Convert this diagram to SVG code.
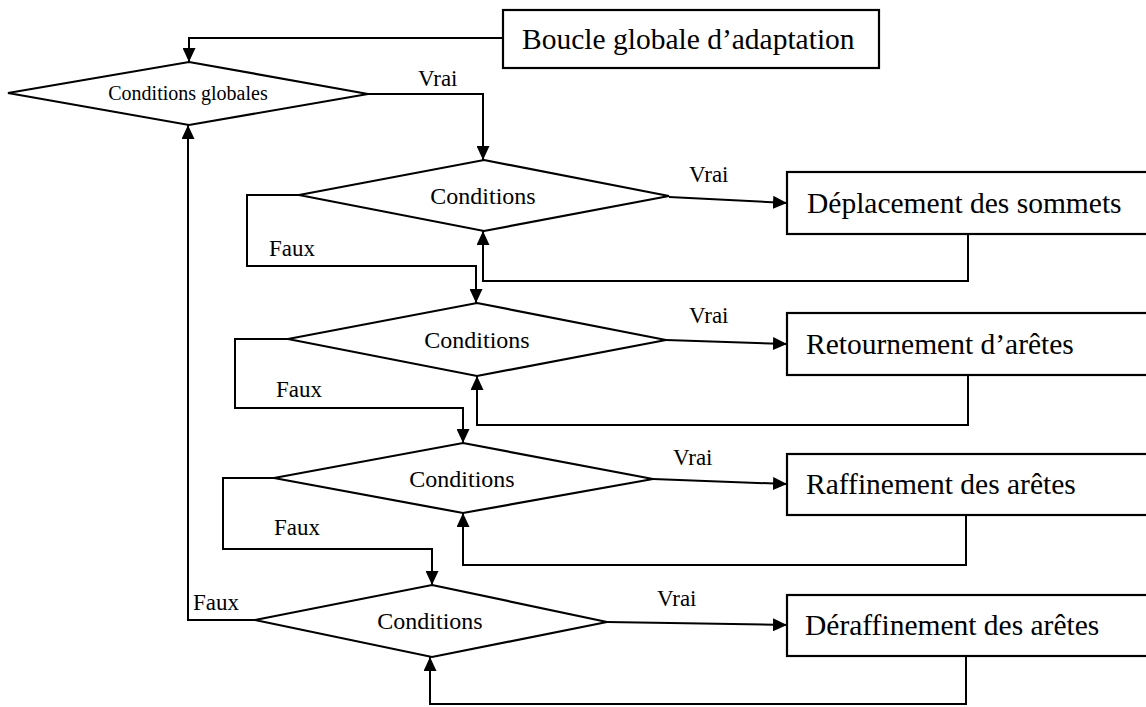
<svg xmlns="http://www.w3.org/2000/svg" width="1146" height="707" viewBox="0 0 1146 707">
<style>
  .shape { fill: #fff; stroke: #000; stroke-width: 2.2; stroke-linejoin: miter; }
  .conn { fill: none; stroke: #000; stroke-width: 2; }
  .box { font-family: "Liberation Serif", "Times New Roman", serif; font-size: 29.5px; fill: #000; }
  .cond { font-family: "Liberation Serif", "Times New Roman", serif; font-size: 24px; fill: #000; text-anchor: middle; }
  .gcond { font-family: "Liberation Serif", "Times New Roman", serif; font-size: 20px; fill: #000; text-anchor: middle; }
  .lbl { font-family: "Liberation Serif", "Times New Roman", serif; font-size: 23px; fill: #000; }
</style>
<defs>
  <marker id="arr" markerUnits="userSpaceOnUse" markerWidth="15" markerHeight="13" refX="14" refY="6.5" orient="auto">
    <path d="M0,0 L14,6.5 L0,13 z" fill="#000"/>
  </marker>
</defs>
<rect width="1146" height="707" fill="#fff"/>

<g id="connectors">
  <polyline class="conn" points="503,38 189,38 189,62" marker-end="url(#arr)"/>
  <polyline class="conn" points="368,94 483,94 483,160" marker-end="url(#arr)"/>
  <polyline class="conn" points="255,620 188,620 188,125" marker-end="url(#arr)"/>

  <line class="conn" x1="669" y1="197" x2="787" y2="203" marker-end="url(#arr)"/>
  <polyline class="conn" points="299,195 247,195 247,266 476,266 476,303" marker-end="url(#arr)"/>
  <polyline class="conn" points="968,234 968,281 483,281 483,231" marker-end="url(#arr)"/>

  <line class="conn" x1="666" y1="340" x2="787" y2="344" marker-end="url(#arr)"/>
  <polyline class="conn" points="288,339 235,339 235,408 463,408 463,443" marker-end="url(#arr)"/>
  <polyline class="conn" points="968,375 968,425 477,425 477,376" marker-end="url(#arr)"/>

  <line class="conn" x1="653" y1="479" x2="787" y2="484" marker-end="url(#arr)"/>
  <polyline class="conn" points="274,478 223,478 223,549 432,549 432,585" marker-end="url(#arr)"/>
  <polyline class="conn" points="966,515 966,565 463,565 463,513" marker-end="url(#arr)"/>

  <line class="conn" x1="607" y1="622" x2="787" y2="625" marker-end="url(#arr)"/>
  <polyline class="conn" points="966,656 966,704 430,704 430,657" marker-end="url(#arr)"/>

  <text class="lbl" x="418" y="86" font-size="22.5">Vrai</text>
  <text class="lbl" x="689" y="182" font-size="22.5">Vrai</text>
  <text class="lbl" x="689" y="323" font-size="22.5">Vrai</text>
  <text class="lbl" x="673" y="465" font-size="22.5">Vrai</text>
  <text class="lbl" x="657" y="606" font-size="22.5">Vrai</text>
  <text class="lbl" x="269" y="256">Faux</text>
  <text class="lbl" x="276" y="397">Faux</text>
  <text class="lbl" x="274" y="535">Faux</text>
  <text class="lbl" x="193" y="610">Faux</text>
</g>

<g id="boucle">
  <rect class="shape" x="503" y="10" width="376" height="58"/>
  <text class="box" x="522" y="49">Boucle globale d’adaptation</text>
</g>

<g id="cond-globales">
  <polygon class="shape" points="189,62 368,94 189,125 8,93"/>
  <text class="gcond" x="188" y="100">Conditions globales</text>
</g>

<g id="cond1">
  <polygon class="shape" points="484,160 669,196 484,231 299,195"/>
  <text class="cond" x="483" y="204">Conditions</text>
</g>
<g id="cond2">
  <polygon class="shape" points="477,303 666,340 477,376 288,339"/>
  <text class="cond" x="477" y="348">Conditions</text>
</g>
<g id="cond3">
  <polygon class="shape" points="463,443 653,479 463,513 274,478"/>
  <text class="cond" x="462" y="487">Conditions</text>
</g>
<g id="cond4">
  <polygon class="shape" points="432,585 607,622 432,657 255,620"/>
  <text class="cond" x="430" y="629">Conditions</text>
</g>

<g id="deplacement">
  <rect class="shape" x="787" y="172" width="370" height="62"/>
  <text class="box" x="807" y="213">Déplacement des sommets</text>
</g>
<g id="retournement">
  <rect class="shape" x="787" y="313" width="370" height="62"/>
  <text class="box" x="806" y="354">Retournement d’arêtes</text>
</g>
<g id="raffinement">
  <rect class="shape" x="787" y="454" width="370" height="61"/>
  <text class="box" x="806" y="494">Raffinement des arêtes</text>
</g>
<g id="deraffinement">
  <rect class="shape" x="787" y="595" width="370" height="61"/>
  <text class="box" x="805" y="635">Déraffinement des arêtes</text>
</g>
</svg>
